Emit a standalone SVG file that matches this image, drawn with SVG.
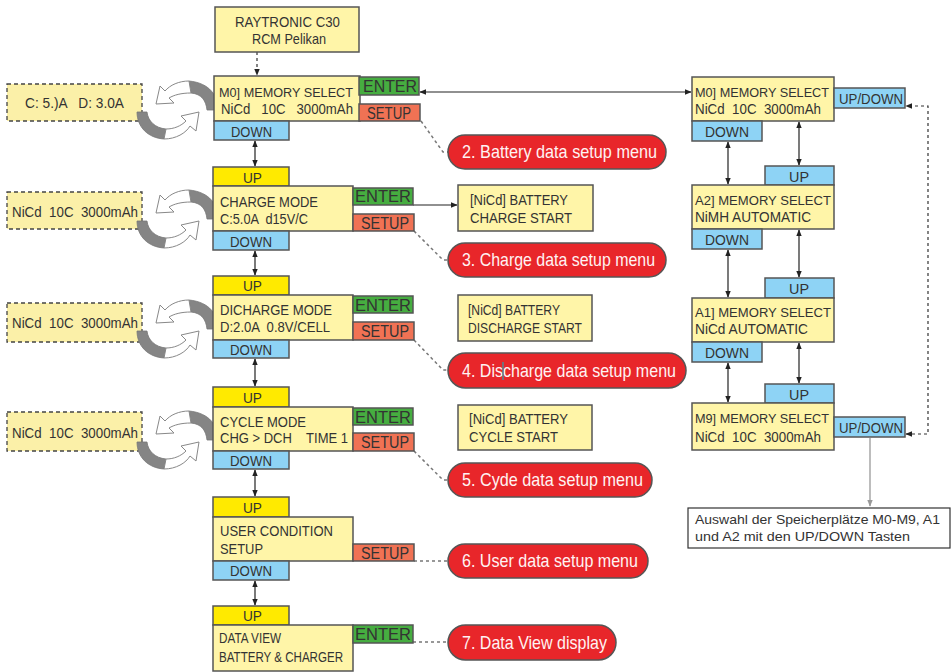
<svg xmlns="http://www.w3.org/2000/svg" width="952" height="672" viewBox="0 0 952 672">
<style>
text{font-family:"Liberation Sans",Arial,sans-serif;fill:#333;font-size:15px;white-space:pre}
.bx{fill:#fff5a8;stroke:#555;stroke-width:1.5}
.ld{fill:#fbf0a8;stroke:#444;stroke-width:1.3;stroke-dasharray:4 3}
.up{fill:#ffea00;stroke:#555;stroke-width:1.5}
.dn{fill:#8ed3f5;stroke:#555;stroke-width:1.5}
.en{fill:#46ad40;stroke:#555;stroke-width:1.5}
.su{fill:#f07254;stroke:#555;stroke-width:1.5}
.pl{fill:#e8262a;stroke:#555;stroke-width:1.5}
.pt{fill:#fff3f3;font-size:19px}
.b{font-size:16px}
.s{font-size:14px}
.m{font-size:13.4px}
.ln{fill:none;stroke:#222;stroke-width:1.2}
.dl{fill:none;stroke:#333;stroke-width:1.2;stroke-dasharray:3 3}
.dg{fill:none;stroke:#777;stroke-width:1.5;stroke-dasharray:3 3}
.rg{fill:#858585;stroke:#777;stroke-width:0.8}
.rw{fill:#fff;stroke:#888;stroke-width:1}
</style>
<defs>
<marker id="ah" viewBox="0 0 10 10" refX="9" refY="5" markerWidth="7" markerHeight="7" markerUnits="userSpaceOnUse" orient="auto-start-reverse"><path d="M0,1 L10,5 L0,9 z" fill="#222"/></marker>
<marker id="ahg" viewBox="0 0 10 10" refX="9" refY="5" markerWidth="7" markerHeight="7" markerUnits="userSpaceOnUse" orient="auto-start-reverse"><path d="M0,1 L10,5 L0,9 z" fill="#999"/></marker>
<g id="recycle">
<path class="rg" d="M88,34 C88,20 80,7 59,5 L61,17 C72,18 76,25 77,34 Z"/>
<path class="rw" d="M59,5 C49,5 40,9 35,15 L30,10 L26,28 L44,27 L39,22 C44,19 51,17 61,17 Z"/>
<path class="rg" d="M7,36 C7,51 18,62 34,63 L36,53 C25,52 18,45 17,36 Z"/>
<path class="rw" d="M34,63 C46,63 56,57 60,50 L66,55 L69,36 L51,40 L56,45 C51,50 44,53 36,53 Z"/>
</g>
</defs>

<g id="connectors">
<path class="dl" d="M257,52 L257,75" marker-end="url(#ah)"/>
<path class="ln" d="M420,92 L691,92" marker-start="url(#ah)" marker-end="url(#ah)"/>
<path class="ln" d="M255,141 L255,166" marker-start="url(#ah)" marker-end="url(#ah)"/>
<path class="ln" d="M255,251 L255,275" marker-start="url(#ah)" marker-end="url(#ah)"/>
<path class="ln" d="M255,359 L255,386" marker-start="url(#ah)" marker-end="url(#ah)"/>
<path class="ln" d="M255,470 L255,496" marker-start="url(#ah)" marker-end="url(#ah)"/>
<path class="ln" d="M255,581 L255,605" marker-start="url(#ah)" marker-end="url(#ah)"/>
<path class="ln" d="M413,205 L457,205" marker-end="url(#ah)"/>
<path class="dg" d="M421,121 L443,152 L454,152" marker-end="url(#ah)"/>
<path class="dg" d="M414,231 L443,260 L454,260" marker-end="url(#ah)"/>
<path class="dg" d="M414,340 L443,370 L454,370" marker-end="url(#ah)"/>
<path class="dg" d="M414,451 L443,480 L454,480" marker-end="url(#ah)"/>
<path class="dl" d="M414,561 L454,561" marker-end="url(#ah)"/>
<path class="dl" d="M413,642 L454,642" marker-end="url(#ah)"/>
<path class="ln" d="M728,142 L728,184" marker-start="url(#ah)" marker-end="url(#ah)"/>
<path class="ln" d="M799,122 L799,165" marker-start="url(#ah)" marker-end="url(#ah)"/>
<path class="ln" d="M728,250 L728,297" marker-start="url(#ah)" marker-end="url(#ah)"/>
<path class="ln" d="M799,230 L799,277" marker-start="url(#ah)" marker-end="url(#ah)"/>
<path class="ln" d="M728,363 L728,402" marker-start="url(#ah)" marker-end="url(#ah)"/>
<path class="ln" d="M799,343 L799,383" marker-start="url(#ah)" marker-end="url(#ah)"/>
<path class="dl" d="M906,434 L928,434 L928,106 L906,106" marker-start="url(#ah)" marker-end="url(#ah)"/>
<path fill="none" stroke="#999" stroke-width="1.3" d="M870,438 L870,506" marker-end="url(#ahg)"/>
</g>

<g id="title">
<rect class="bx" x="215" y="7" width="144" height="45"/>
<text x="235" y="27" textLength="105" lengthAdjust="spacingAndGlyphs">RAYTRONIC C30</text>
<text x="252" y="44" textLength="74" lengthAdjust="spacingAndGlyphs">RCM Pelikan</text>
</g>

<g id="m0-left">
<rect class="ld" x="7" y="84" width="135" height="37"/>
<text x="25" y="108" textLength="99" lengthAdjust="spacingAndGlyphs">C: 5.)A   D: 3.0A</text>
<use href="#recycle" transform="translate(130,76)"/>
<rect class="bx" x="214" y="76" width="146" height="45"/>
<text class="m" x="219" y="97" textLength="134" lengthAdjust="spacingAndGlyphs">M0] MEMORY SELECT</text>
<text x="221" y="114" textLength="132" lengthAdjust="spacingAndGlyphs">NiCd   10C   3000mAh</text>
<rect class="en" x="359" y="77" width="60" height="18"/>
<text class="b" x="363" y="92" textLength="54" lengthAdjust="spacingAndGlyphs">ENTER</text>
<rect class="su" x="359" y="104" width="61" height="17"/>
<text class="b" x="367" y="119" textLength="44" lengthAdjust="spacingAndGlyphs">SETUP</text>
<rect class="dn" x="214" y="121" width="75" height="19"/>
<text x="231" y="137" textLength="41" lengthAdjust="spacingAndGlyphs">DOWN</text>
</g>

<g id="charge">
<rect class="ld" x="7" y="192" width="135" height="37"/>
<text x="12" y="217" textLength="126" lengthAdjust="spacingAndGlyphs">NiCd  10C  3000mAh</text>
<use href="#recycle" transform="translate(130,185)"/>
<rect class="up" x="213" y="167" width="76" height="19"/>
<text x="243" y="183" textLength="19" lengthAdjust="spacingAndGlyphs">UP</text>
<rect class="bx" x="213" y="186" width="140" height="45"/>
<text x="220" y="207" textLength="98" lengthAdjust="spacingAndGlyphs">CHARGE MODE</text>
<text x="220" y="224" textLength="88" lengthAdjust="spacingAndGlyphs">C:5.0A  d15V/C</text>
<rect class="en" x="353" y="188" width="60" height="17"/>
<text class="b" x="355" y="202" textLength="56" lengthAdjust="spacingAndGlyphs">ENTER</text>
<rect class="su" x="353" y="214" width="61" height="17"/>
<text class="b" x="361" y="229" textLength="48" lengthAdjust="spacingAndGlyphs">SETUP</text>
<rect class="dn" x="213" y="231" width="76" height="19"/>
<text x="230" y="247" textLength="42" lengthAdjust="spacingAndGlyphs">DOWN</text>
</g>

<g id="discharge">
<rect class="ld" x="7" y="303" width="135" height="39"/>
<text x="12" y="328" textLength="126" lengthAdjust="spacingAndGlyphs">NiCd  10C  3000mAh</text>
<use href="#recycle" transform="translate(130,295)"/>
<rect class="up" x="213" y="276" width="76" height="19"/>
<text x="243" y="291" textLength="19" lengthAdjust="spacingAndGlyphs">UP</text>
<rect class="bx" x="213" y="295" width="140" height="45"/>
<text x="220" y="315" textLength="112" lengthAdjust="spacingAndGlyphs">DICHARGE MODE</text>
<text x="220" y="332" textLength="110" lengthAdjust="spacingAndGlyphs">D:2.0A  0.8V/CELL</text>
<rect class="en" x="353" y="296" width="60" height="17"/>
<text class="b" x="355" y="311" textLength="56" lengthAdjust="spacingAndGlyphs">ENTER</text>
<rect class="su" x="353" y="322" width="61" height="18"/>
<text class="b" x="361" y="337" textLength="48" lengthAdjust="spacingAndGlyphs">SETUP</text>
<rect class="dn" x="213" y="340" width="76" height="18"/>
<text x="230" y="355" textLength="42" lengthAdjust="spacingAndGlyphs">DOWN</text>
</g>

<g id="cycle">
<rect class="ld" x="7" y="412" width="135" height="39"/>
<text x="12" y="438" textLength="126" lengthAdjust="spacingAndGlyphs">NiCd  10C  3000mAh</text>
<use href="#recycle" transform="translate(130,406)"/>
<rect class="up" x="213" y="387" width="76" height="20"/>
<text x="243" y="403" textLength="19" lengthAdjust="spacingAndGlyphs">UP</text>
<rect class="bx" x="213" y="407" width="140" height="44"/>
<text x="220" y="427" textLength="86" lengthAdjust="spacingAndGlyphs">CYCLE MODE</text>
<text x="220" y="443" textLength="128" lengthAdjust="spacingAndGlyphs">CHG &gt; DCH    TIME 1</text>
<rect class="en" x="353" y="408" width="60" height="17"/>
<text class="b" x="355" y="423" textLength="56" lengthAdjust="spacingAndGlyphs">ENTER</text>
<rect class="su" x="353" y="433" width="61" height="18"/>
<text class="b" x="361" y="448" textLength="48" lengthAdjust="spacingAndGlyphs">SETUP</text>
<rect class="dn" x="213" y="451" width="76" height="18"/>
<text x="230" y="466" textLength="42" lengthAdjust="spacingAndGlyphs">DOWN</text>
</g>

<g id="user">
<rect class="up" x="213" y="497" width="76" height="20"/>
<text x="243" y="513" textLength="19" lengthAdjust="spacingAndGlyphs">UP</text>
<rect class="bx" x="213" y="517" width="140" height="44"/>
<text x="220" y="536" textLength="113" lengthAdjust="spacingAndGlyphs">USER CONDITION</text>
<text x="220" y="554" textLength="43" lengthAdjust="spacingAndGlyphs">SETUP</text>
<rect class="su" x="353" y="544" width="61" height="17"/>
<text class="b" x="361" y="559" textLength="48" lengthAdjust="spacingAndGlyphs">SETUP</text>
<rect class="dn" x="213" y="561" width="76" height="19"/>
<text x="230" y="576" textLength="42" lengthAdjust="spacingAndGlyphs">DOWN</text>
</g>

<g id="dataview">
<rect class="up" x="213" y="606" width="76" height="19"/>
<text x="243" y="621" textLength="19" lengthAdjust="spacingAndGlyphs">UP</text>
<rect class="bx" x="213" y="625" width="140" height="46"/>
<text class="s" x="219" y="643" textLength="62" lengthAdjust="spacingAndGlyphs">DATA VIEW</text>
<text class="s" x="219" y="662" textLength="124" lengthAdjust="spacingAndGlyphs">BATTERY &amp; CHARGER</text>
<rect class="en" x="353" y="625" width="60" height="18"/>
<text class="b" x="355" y="640" textLength="56" lengthAdjust="spacingAndGlyphs">ENTER</text>
</g>

<g id="charge-start">
<rect class="bx" x="458" y="185" width="135" height="46"/>
<text x="470" y="205" textLength="98" lengthAdjust="spacingAndGlyphs">[NiCd] BATTERY</text>
<text x="470" y="223" textLength="102" lengthAdjust="spacingAndGlyphs">CHARGE START</text>
</g>
<g id="discharge-start">
<rect class="bx" x="458" y="295" width="134" height="46"/>
<text x="468" y="315" textLength="92" lengthAdjust="spacingAndGlyphs">[NiCd] BATTERY</text>
<text x="468" y="333" textLength="114" lengthAdjust="spacingAndGlyphs">DISCHARGE START</text>
</g>
<g id="cycle-start">
<rect class="bx" x="458" y="405" width="134" height="45"/>
<text x="469" y="424" textLength="99" lengthAdjust="spacingAndGlyphs">[NiCd] BATTERY</text>
<text x="469" y="442" textLength="89" lengthAdjust="spacingAndGlyphs">CYCLE START</text>
</g>

<g id="menu2">
<rect class="pl" x="448" y="135" width="218" height="34" rx="17"/>
<text class="pt" x="462" y="158" textLength="195" lengthAdjust="spacingAndGlyphs">2. Battery data setup menu</text>
</g>
<g id="menu3">
<rect class="pl" x="448" y="243" width="218" height="34" rx="17"/>
<text class="pt" x="462" y="266" textLength="193" lengthAdjust="spacingAndGlyphs">3. Charge data setup menu</text>
</g>
<g id="menu4">
<rect class="pl" x="448" y="353" width="238" height="35" rx="17.5"/>
<text class="pt" x="462" y="377" textLength="214" lengthAdjust="spacingAndGlyphs">4. Discharge data setup menu</text>
<line x1="503" y1="362" x2="503" y2="380" stroke="#2aa0b0" stroke-width="1.2"/>
</g>
<g id="menu5">
<rect class="pl" x="448" y="463" width="204" height="34" rx="17"/>
<text class="pt" x="462" y="486" textLength="181" lengthAdjust="spacingAndGlyphs">5. Cyde data setup menu</text>
</g>
<g id="menu6">
<rect class="pl" x="448" y="544" width="200" height="34" rx="17"/>
<text class="pt" x="462" y="567" textLength="176" lengthAdjust="spacingAndGlyphs">6. User data setup menu</text>
</g>
<g id="menu7">
<rect class="pl" x="448" y="625" width="168" height="35" rx="17.5"/>
<text class="pt" x="462" y="649" textLength="145" lengthAdjust="spacingAndGlyphs">7. Data View display</text>
</g>

<g id="m0-right">
<rect class="bx" x="692" y="77" width="142" height="44"/>
<text class="m" x="695" y="97" textLength="134" lengthAdjust="spacingAndGlyphs">M0] MEMORY SELECT</text>
<text x="695" y="114" textLength="126" lengthAdjust="spacingAndGlyphs">NiCd  10C  3000mAh</text>
<rect class="dn" x="834" y="88" width="71" height="20"/>
<text x="839" y="104" textLength="64" lengthAdjust="spacingAndGlyphs">UP/DOWN</text>
<rect class="dn" x="692" y="121" width="70" height="20"/>
<text x="705" y="137" textLength="44" lengthAdjust="spacingAndGlyphs">DOWN</text>
</g>
<g id="a2">
<rect class="dn" x="765" y="166" width="69" height="19"/>
<text x="789" y="182" textLength="20" lengthAdjust="spacingAndGlyphs">UP</text>
<rect class="bx" x="692" y="185" width="142" height="44"/>
<text class="m" x="695" y="205" textLength="136" lengthAdjust="spacingAndGlyphs">A2] MEMORY SELECT</text>
<text x="695" y="222" textLength="116" lengthAdjust="spacingAndGlyphs">NiMH AUTOMATIC</text>
<rect class="dn" x="692" y="229" width="70" height="20"/>
<text x="705" y="245" textLength="44" lengthAdjust="spacingAndGlyphs">DOWN</text>
</g>
<g id="a1">
<rect class="dn" x="765" y="278" width="69" height="20"/>
<text x="789" y="294" textLength="20" lengthAdjust="spacingAndGlyphs">UP</text>
<rect class="bx" x="692" y="298" width="142" height="44"/>
<text class="m" x="695" y="317" textLength="136" lengthAdjust="spacingAndGlyphs">A1] MEMORY SELECT</text>
<text x="695" y="334" textLength="113" lengthAdjust="spacingAndGlyphs">NiCd AUTOMATIC</text>
<rect class="dn" x="692" y="342" width="70" height="20"/>
<text x="705" y="358" textLength="44" lengthAdjust="spacingAndGlyphs">DOWN</text>
</g>
<g id="m9">
<rect class="dn" x="765" y="384" width="69" height="19"/>
<text x="789" y="400" textLength="20" lengthAdjust="spacingAndGlyphs">UP</text>
<rect class="bx" x="692" y="403" width="142" height="47"/>
<text class="m" x="695" y="423" textLength="134" lengthAdjust="spacingAndGlyphs">M9] MEMORY SELECT</text>
<text x="695" y="442" textLength="126" lengthAdjust="spacingAndGlyphs">NiCd  10C  3000mAh</text>
<rect class="dn" x="834" y="417" width="71" height="20"/>
<text x="839" y="433" textLength="64" lengthAdjust="spacingAndGlyphs">UP/DOWN</text>
</g>
<g id="note">
<rect x="688" y="508" width="262" height="40" fill="#fff" stroke="#333" stroke-width="1.2"/>
<text x="695" y="524" style="font-size:13px" textLength="245" lengthAdjust="spacingAndGlyphs">Auswahl der Speicherplätze M0-M9, A1</text>
<text x="695" y="541" style="font-size:13px" textLength="215" lengthAdjust="spacingAndGlyphs">und A2 mit den UP/DOWN Tasten</text>
</g>
</svg>
